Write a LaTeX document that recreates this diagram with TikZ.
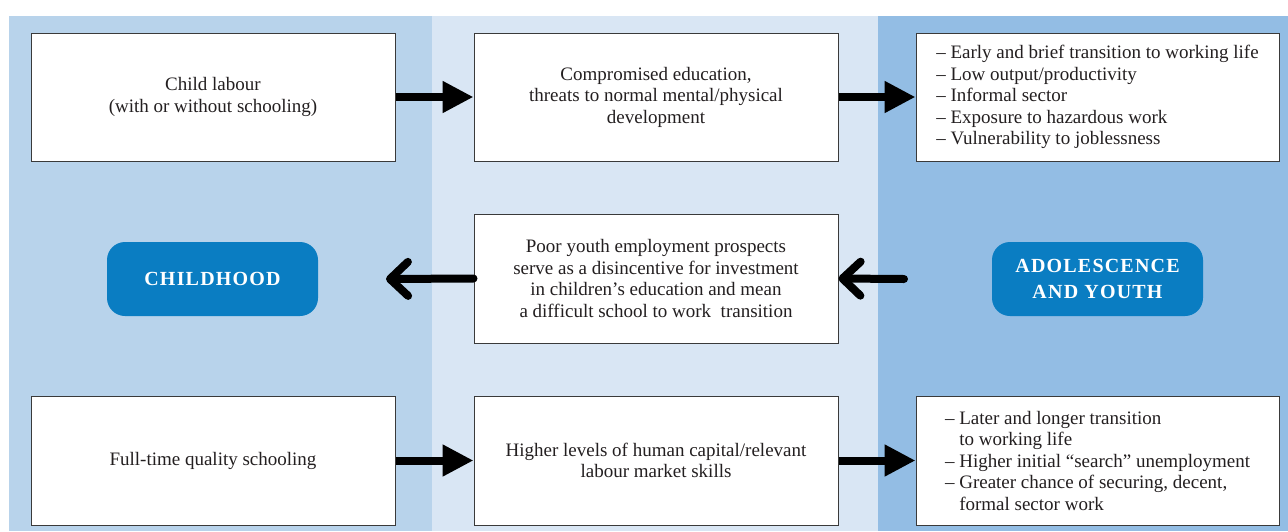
\documentclass[tikz,border=0pt]{standalone}
\usepackage{fontspec}
\setmainfont{Liberation Serif}
\newfontfamily\pillfont[LetterSpace=6]{Liberation Serif}
\usetikzlibrary{arrows.meta}
\definecolor{panelL}{HTML}{B8D3EB}
\definecolor{panelM}{HTML}{D9E6F4}
\definecolor{panelR}{HTML}{93BDE4}
\definecolor{pillblue}{HTML}{0A7DC2}
\definecolor{boxline}{HTML}{3A3A3A}
\definecolor{txt}{HTML}{231F20}
\tikzset{
  box/.style={draw=boxline, line width=1pt, fill=white, text=txt,
    minimum width=364pt, minimum height=128pt, inner sep=0pt,
    font=\fontsize{19}{21.5}\selectfont},
  pill/.style={fill=pillblue, rounded corners=18pt, text=white,
    minimum width=211pt, minimum height=74pt, inner sep=0pt, align=center,
    font=\pillfont\bfseries\fontsize{20}{26}\selectfont},
  fatarrow/.style={line width=8pt, -{Triangle[length=31pt,width=30pt]}},
  openarrow/.style={line width=8pt, line cap=round,
    -{Straight Barb[length=18pt,width=34pt,round]}},
}
\begin{document}
\begin{tikzpicture}[x=1pt,y=-1pt]
\useasboundingbox (0,0) rectangle (1288,531);
\fill[white] (0,0) rectangle (1288,531);
\fill[panelL] (9,16) rectangle (432,531);
\fill[panelM] (432,16) rectangle (878,531);
\fill[panelR] (878,16) rectangle (1288,531);

\node[box, align=center] (b1) at (213,97) {Child labour\\(with or without schooling)};
\node[box, align=center] (b2) at (656,97) {Compromised education,\\threats to normal mental/physical\\development};
\node[box, align=left, minimum width=363pt] (b3) at (1097.5,97) {– Early and brief transition to working life\\– Low output/productivity\\– Informal sector\\– Exposure to hazardous work\\– Vulnerability to joblessness};

\node[box, align=center, minimum height=129pt] (m) at (656,278.5) {Poor youth employment prospects\\serve as a disincentive for investment\\in children’s education and mean\\a difficult school to work\ \ transition};

\node[box, align=center, minimum height=129pt] (c1) at (213,460.5) {Full-time quality schooling};
\node[box, align=center, minimum height=129pt] (c2) at (656,460.5) {Higher levels of human capital/relevant\\labour market skills};
\node[box, align=left, minimum width=363pt, minimum height=129pt] (c3) at (1097.5,460.5) {– Later and longer transition\\\phantom{– }to working life\\– Higher initial “search” unemployment\\– Greater chance of securing, decent,\\\phantom{– }formal sector work};

\node[pill] (child) at (212.5,279) {CHILDHOOD};
\node[pill] (youth) at (1097.5,279) {ADOLESCENCE\\AND YOUTH};

\coordinate (lt) at (386,279);
\coordinate (rs) at (904,279);

\draw[fatarrow] (b1.east) -- (b2.west);
\draw[fatarrow] (b2.east) -- (b3.west);
\draw[fatarrow] (c1.east) -- (c2.west);
\draw[fatarrow] (c2.east) -- (c3.west);
\draw[openarrow] (m.west) -- (lt);
\draw[openarrow] (rs) -- (m.east);
\end{tikzpicture}
\end{document}
